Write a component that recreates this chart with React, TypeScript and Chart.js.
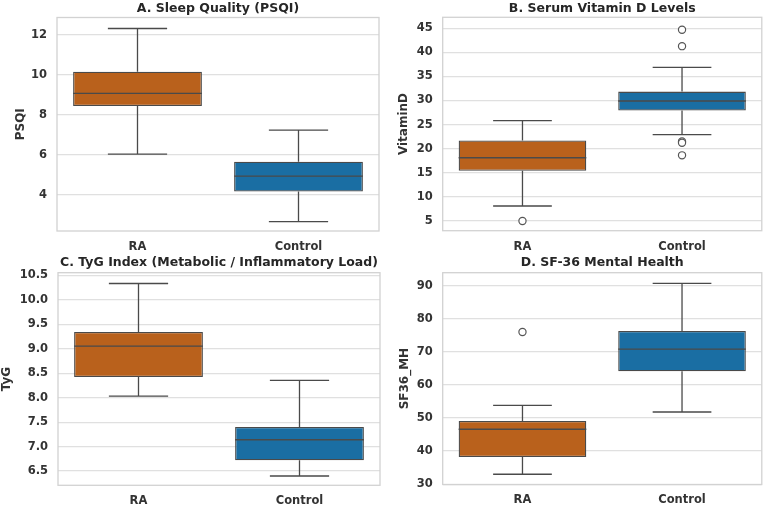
import React, { useEffect, useRef } from "react";
import { Chart, registerables } from "chart.js";

Chart.register(...registerables);

// Groups compared in every panel
const groups = ["RA", "Control"];
const groupColors = ["#b9611c", "#1a6ea3"];

// A. Sleep Quality (PSQI) — five-number summaries per group
const psqiLow = [6.05, 2.67];
const psqiQ1 = [8.45, 4.17];
const psqiMedian = [9.08, 4.95];
const psqiQ3 = [10.17, 5.67];
const psqiHigh = [12.33, 7.25];
const psqiOutliers: { x: string; y: number }[] = [];
const psqiTicks = [4, 6, 8, 10, 12];
const psqiLimits = [2.2, 12.88];

// B. Serum Vitamin D
const vitdLow = [8.07, 22.9];
const vitdQ1 = [15.4, 27.9];
const vitdMedian = [18.1, 29.9];
const vitdQ3 = [21.7, 31.85];
const vitdHigh = [25.8, 36.9];
const vitdOutliers = [
  { x: "RA", y: 4.95 },
  { x: "Control", y: 44.7 },
  { x: "Control", y: 41.3 },
  { x: "Control", y: 21.5 },
  { x: "Control", y: 21.2 },
  { x: "Control", y: 18.6 },
];
const vitdTicks = [5, 10, 15, 20, 25, 30, 35, 40, 45];
const vitdLimits = [2.93, 47.3];

// C. TyG index
const tygLow = [8.03, 6.4];
const tygQ1 = [8.42, 6.72];
const tygMedian = [9.05, 7.14];
const tygQ3 = [9.34, 7.4];
const tygHigh = [10.33, 8.35];
const tygOutliers: { x: string; y: number }[] = [];
const tygTicks = [6.5, 7.0, 7.5, 8.0, 8.5, 9.0, 9.5, 10.0, 10.5];
const tygLimits = [6.21, 10.55];

// D. SF-36 Mental Health
const mhLow = [33.0, 51.8];
const mhQ1 = [38.2, 64.1];
const mhMedian = [46.6, 70.8];
const mhQ3 = [49.1, 76.3];
const mhHigh = [53.8, 90.7];
const mhOutliers = [{ x: "RA", y: 76.0 }];
const mhTicks = [30, 40, 50, 60, 70, 80, 90];
const mhLimits = [29.9, 93.9];

const FONT = "'DejaVu Sans', 'Liberation Sans', sans-serif";
const LINE = "#4a4a4a";
const TEXT = "#333333";

type Stats = {
  low: number[];
  q1: number[];
  median: number[];
  q3: number[];
  high: number[];
  outliers: { x: string; y: number }[];
  ticks: number[];
  limits: number[];
  decimals: number;
};

type Panel = {
  title: string;
  yTitle: string;
  stats: Stats;
  box: { left: number; top: number; w: number; h: number };
  area: { l: number; t: number; r: number; b: number };
  titleTop: number;
  yTitleOffset: number;
};

// Whiskers, caps and median line drawn on top of the floating-bar boxes
const whiskerPlugin = {
  id: "whiskers",
  afterDatasetsDraw(chart: any, _args: any, opts: any) {
    const s: Stats = opts.stats;
    if (!s) return;
    const { ctx } = chart;
    const y = chart.scales.y;
    const meta = chart.getDatasetMeta(0);
    ctx.save();
    ctx.strokeStyle = LINE;
    ctx.lineWidth = 1.3;
    meta.data.forEach((bar: any, i: number) => {
      const { x, width } = bar.getProps(["x", "width"], true);
      const half = width / 2;
      const cap = width * 0.23;
      const pLow = y.getPixelForValue(s.low[i]);
      const pQ1 = y.getPixelForValue(s.q1[i]);
      const pMed = y.getPixelForValue(s.median[i]);
      const pQ3 = y.getPixelForValue(s.q3[i]);
      const pHigh = y.getPixelForValue(s.high[i]);
      ctx.beginPath();
      ctx.moveTo(x, pQ1);
      ctx.lineTo(x, pLow);
      ctx.moveTo(x - cap, pLow);
      ctx.lineTo(x + cap, pLow);
      ctx.moveTo(x, pQ3);
      ctx.lineTo(x, pHigh);
      ctx.moveTo(x - cap, pHigh);
      ctx.lineTo(x + cap, pHigh);
      ctx.moveTo(x - half, pMed);
      ctx.lineTo(x + half, pMed);
      ctx.stroke();
    });
    ctx.restore();
  },
};

// Light frame around the plotting area
const framePlugin = {
  id: "frame",
  beforeDatasetsDraw(chart: any) {
    const { ctx, chartArea: a } = chart;
    ctx.save();
    ctx.strokeStyle = "#d2d2d2";
    ctx.lineWidth = 1.3;
    ctx.strokeRect(a.left, a.top, a.right - a.left, a.bottom - a.top);
    ctx.restore();
  },
};

function BoxPanel({ p }: { p: Panel }) {
  const ref = useRef<HTMLCanvasElement | null>(null);

  useEffect(() => {
    if (!ref.current) return;
    const s = p.stats;
    const titleSize = 12.5;
    const titleLine = titleSize * 1.2;
    const chart = new Chart(ref.current, {
      type: "bar",
      data: {
        labels: groups,
        datasets: [
          {
            type: "bar",
            data: groups.map((_, i) => [s.q1[i], s.q3[i]]),
            backgroundColor: groupColors,
            borderColor: LINE,
            borderWidth: 1.3,
            borderSkipped: false,
            barPercentage: 0.8,
            categoryPercentage: 1.0,
          } as any,
          {
            type: "scatter",
            data: s.outliers as any,
            pointRadius: 3.6,
            pointBackgroundColor: "#ffffff",
            pointBorderColor: "#555555",
            pointBorderWidth: 1.2,
            showLine: false,
          } as any,
        ],
      },
      options: {
        responsive: false,
        animation: false,
        events: [],
        layout: {
          padding: { left: 0, top: 0, right: p.box.w - p.area.r, bottom: 0 },
        },
        plugins: {
          legend: { display: false },
          tooltip: { enabled: false },
          title: {
            display: true,
            fullSize: false,
            text: p.title,
            color: "#262626",
            font: { family: FONT, size: titleSize, weight: "bold", lineHeight: 1.2 },
            padding: {
              top: p.titleTop,
              bottom: p.area.t - titleLine - p.titleTop,
            },
          },
          whiskers: { stats: s },
        } as any,
        scales: {
          x: {
            type: "category",
            grid: { display: false, drawTicks: false },
            border: { display: false },
            ticks: {
              color: TEXT,
              padding: 9,
              font: { family: FONT, size: 11.5, weight: "bold" },
            },
            afterFit: (scale: any) => {
              scale.height = p.box.h - p.area.b;
            },
          },
          y: {
            type: "linear",
            min: s.limits[0],
            max: s.limits[1],
            grid: { color: "#e0e0e0", lineWidth: 1.2, drawTicks: false },
            border: { display: false },
            ticks: {
              color: TEXT,
              padding: 10,
              font: { family: FONT, size: 11.5, weight: "bold" },
              callback: (v: any) => Number(v).toFixed(s.decimals),
            },
            title: {
              display: true,
              text: p.yTitle,
              color: TEXT,
              font: { family: FONT, size: 12, weight: "bold", lineHeight: 1.2 },
              padding: { top: p.yTitleOffset, bottom: 0 },
            },
            afterBuildTicks: (scale: any) => {
              scale.ticks = s.ticks.map((v) => ({ value: v }));
            },
            afterFit: (scale: any) => {
              scale.width = p.area.l;
            },
          },
        },
      } as any,
      plugins: [framePlugin, whiskerPlugin],
    });
    return () => chart.destroy();
  }, [p]);

  return (
    <canvas
      ref={ref}
      width={p.box.w}
      height={p.box.h}
      style={{
        position: "absolute",
        left: p.box.left,
        top: p.box.top,
        width: p.box.w,
        height: p.box.h,
      }}
    />
  );
}

const panels: Panel[] = [
  {
    title: "A. Sleep Quality (PSQI)",
    yTitle: "PSQI",
    stats: {
      low: psqiLow, q1: psqiQ1, median: psqiMedian, q3: psqiQ3, high: psqiHigh,
      outliers: psqiOutliers, ticks: psqiTicks, limits: psqiLimits, decimals: 0,
    },
    box: { left: 0, top: 0, w: 384, h: 253 },
    area: { l: 57, t: 17.5, r: 379, b: 231 },
    titleTop: 1,
    yTitleOffset: 14,
  },
  {
    title: "B. Serum Vitamin D Levels",
    yTitle: "VitaminD",
    stats: {
      low: vitdLow, q1: vitdQ1, median: vitdMedian, q3: vitdQ3, high: vitdHigh,
      outliers: vitdOutliers, ticks: vitdTicks, limits: vitdLimits, decimals: 0,
    },
    box: { left: 384, top: 0, w: 383, h: 253 },
    area: { l: 58.7, t: 17.3, r: 380, b: 230.7 },
    titleTop: 1,
    yTitleOffset: 13,
  },
  {
    title: "C. TyG Index (Metabolic / Inflammatory Load)",
    yTitle: "TyG",
    stats: {
      low: tygLow, q1: tygQ1, median: tygMedian, q3: tygQ3, high: tygHigh,
      outliers: tygOutliers, ticks: tygTicks, limits: tygLimits, decimals: 1,
    },
    box: { left: 0, top: 253, w: 384, h: 254 },
    area: { l: 58, t: 19.7, r: 380, b: 232.3 },
    titleTop: 2.2,
    yTitleOffset: 0,
  },
  {
    title: "D. SF-36 Mental Health",
    yTitle: "SF36_MH",
    stats: {
      low: mhLow, q1: mhQ1, median: mhMedian, q3: mhQ3, high: mhHigh,
      outliers: mhOutliers, ticks: mhTicks, limits: mhLimits, decimals: 0,
    },
    box: { left: 384, top: 253, w: 383, h: 254 },
    area: { l: 58.7, t: 19.7, r: 380, b: 231.5 },
    titleTop: 2.2,
    yTitleOffset: 14,
  },
];

export default function App() {
  return (
    <div
      style={{
        position: "absolute",
        left: 0,
        top: 0,
        width: 767,
        height: 507,
        background: "#ffffff",
        overflow: "hidden",
      }}
    >
      {panels.map((p) => (
        <BoxPanel key={p.title} p={p} />
      ))}
    </div>
  );
}
